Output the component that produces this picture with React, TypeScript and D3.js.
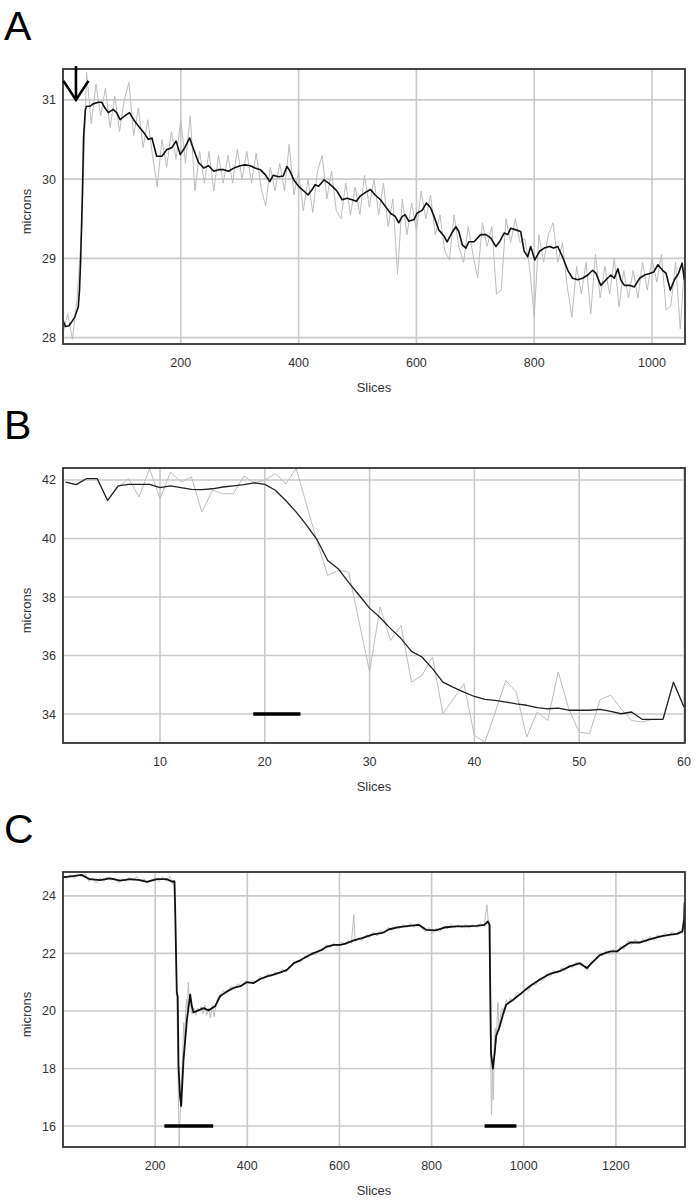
import React from 'react';
import * as d3 from 'd3';

// ---------------- Panel A data ----------------
const A_X_TICKS = [200, 400, 600, 800, 1000];
const A_Y_TICKS = [28, 29, 30, 31];
const A_BLACK: [number, number][] = [
  [0, 28.22], [4, 28.14], [10, 28.15], [15, 28.2], [20, 28.26], [26, 28.39], [28, 28.6], [30, 28.98], [33, 29.83], [35, 30.54],
  [38, 30.88], [40, 30.92], [46, 30.92], [51, 30.95], [60, 30.97], [66, 30.97], [71, 30.9], [77, 30.84], [85, 30.88], [91, 30.84],
  [97, 30.75], [105, 30.8], [113, 30.84], [120, 30.75], [128, 30.67], [137, 30.59], [145, 30.5], [151, 30.52], [159, 30.29], [168, 30.29],
  [176, 30.37], [185, 30.4], [192, 30.48], [199, 30.31], [207, 30.4], [215, 30.52], [222, 30.37], [230, 30.21], [239, 30.14], [247, 30.17],
  [256, 30.1], [264, 30.12], [273, 30.12], [281, 30.1], [290, 30.14], [301, 30.17], [309, 30.18], [318, 30.17], [326, 30.14], [335, 30.12],
  [343, 30.06], [351, 29.97], [357, 30.05], [366, 30.03], [374, 30.04], [380, 30.16], [384, 30.12], [392, 29.99], [400, 29.91], [409, 29.85],
  [416, 29.8], [423, 29.87], [428, 29.93], [434, 29.91], [443, 29.99], [451, 29.95], [460, 29.89], [465, 29.85], [474, 29.74], [482, 29.76],
  [491, 29.74], [498, 29.72], [505, 29.79], [513, 29.83], [522, 29.87], [530, 29.8], [539, 29.74], [547, 29.66], [556, 29.57], [564, 29.53],
  [570, 29.45], [576, 29.53], [581, 29.55], [587, 29.47], [596, 29.49], [601, 29.57], [610, 29.61], [617, 29.7], [624, 29.64], [630, 29.53],
  [638, 29.36], [647, 29.28], [652, 29.21], [660, 29.32], [667, 29.4], [672, 29.34], [678, 29.17], [684, 29.13], [689, 29.21], [698, 29.21],
  [709, 29.3], [718, 29.3], [726, 29.26], [735, 29.15], [741, 29.21], [749, 29.32], [755, 29.3], [760, 29.38], [769, 29.36], [777, 29.34],
  [783, 29.09], [789, 29.02], [794, 29.15], [801, 28.98], [809, 29.09], [817, 29.13], [826, 29.15], [833, 29.13], [840, 29.15], [848, 29.02],
  [857, 28.85], [865, 28.75], [874, 28.73], [882, 28.75], [891, 28.79], [899, 28.85], [905, 28.81], [913, 28.66], [922, 28.73], [930, 28.79],
  [936, 28.75], [942, 28.87], [947, 28.73], [953, 28.66], [962, 28.66], [970, 28.64], [979, 28.75], [987, 28.79], [996, 28.81], [1003, 28.83],
  [1010, 28.92], [1018, 28.85], [1024, 28.81], [1031, 28.6], [1038, 28.73], [1045, 28.81], [1051, 28.94], [1055, 28.73],
];
const A_GRAY_STEP = 8;
const A_GRAY_VALUES = [
  28.05, 28.3, 27.98, 28.5, 29.4, 31.35, 30.7, 31.2, 30.8, 31.15, 30.65, 31.05, 30.6, 31.0, 31.22, 30.55, 30.9, 30.4, 30.75, 30.3,
  29.9, 30.5, 30.15, 30.6, 30.25, 30.75, 30.2, 30.8, 29.85, 30.35, 29.95, 30.35, 29.85, 30.3, 29.95, 30.3, 29.95, 30.38, 30.0, 30.35,
  29.95, 30.33, 29.9, 29.66, 30.15, 29.85, 30.2, 29.85, 30.44, 29.8, 30.1, 29.6, 30.0, 29.58, 30.1, 30.3, 29.75, 30.1, 29.6, 29.5,
  29.95, 29.55, 29.9, 29.55, 30.05, 29.65, 30.0, 29.55, 29.95, 29.4, 29.75, 28.8, 29.75, 29.3, 29.7, 29.35, 29.85, 29.5, 29.8, 29.3,
  29.55, 29.1, 28.98, 29.55, 29.15, 28.95, 29.4, 29.05, 28.75, 29.45, 29.15, 29.4, 28.55, 28.6, 29.5, 29.2, 29.5, 29.2, 29.25, 28.9,
  28.26, 29.3, 28.95, 29.3, 29.45, 28.95, 29.2, 28.65, 28.26, 28.9, 28.55, 28.95, 28.3, 29.05, 28.5, 28.9, 28.55, 29.0, 28.39, 28.85,
  28.5, 28.85, 28.5, 28.95, 28.6, 29.0, 28.7, 29.05, 28.35, 28.4, 28.95, 28.11, 29.0,
];

// ---------------- Panel B data ----------------
const B_X_TICKS = [10, 20, 30, 40, 50, 60];
const B_Y_TICKS = [34, 36, 38, 40, 42];
const B_SLICES = d3.range(1, 61);
const B_GRAY = [
  41.93, 41.84, 42.05, 42.05, 41.3, 41.76, 42.05, 41.42, 42.39, 41.36,
  42.27, 41.93, 42.1, 40.9, 41.65, 41.53, 41.53, 42.14, 41.9, 41.99,
  42.22, 41.87, 42.39, 41.13, 39.88, 38.74, 38.91, 38.85, 37.15, 35.44,
  37.66, 36.52, 37.03, 35.09, 35.32, 35.95, 34.01, 34.52, 35.04, 33.27,
  33.04, 34.07, 35.15, 34.75, 33.21, 34.07, 33.78, 35.44, 34.18, 33.38,
  33.33, 34.5, 34.64, 34.18, 33.78, 33.73, 33.82, 33.82, 35.09, 34.24,
];
const B_BLACK = [
  41.93, 41.84, 42.05, 42.05, 41.3, 41.8, 41.85, 41.85, 41.85, 41.74,
  41.8, 41.74, 41.68, 41.67, 41.7, 41.76, 41.8, 41.84, 41.9, 41.85,
  41.65, 41.3, 40.9, 40.45, 39.95, 39.25, 38.97, 38.5, 38.06, 37.62,
  37.3, 36.92, 36.58, 36.14, 35.95, 35.55, 35.09, 34.91, 34.75, 34.6,
  34.5, 34.47, 34.41, 34.35, 34.3, 34.22, 34.18, 34.2, 34.13, 34.13,
  34.13, 34.16, 34.09, 34.01, 34.07, 33.82, 33.82, 33.82, 35.09, 34.24,
];
const B_BARS: [number, number, number][] = [[18.9, 23.4, 34]];

// ---------------- Panel C data ----------------
const C_X_TICKS = [200, 400, 600, 800, 1000, 1200];
const C_Y_TICKS = [16, 18, 20, 22, 24];
const C_BLACK: [number, number][] = [
  [0, 24.68], [3, 24.65], [22, 24.69], [40, 24.73], [58, 24.58], [80, 24.55], [102, 24.61], [124, 24.53], [146, 24.58], [167, 24.55],
  [182, 24.49], [204, 24.58], [225, 24.58], [236, 24.5], [242, 24.5], [243.5, 23.5], [247, 20.62], [249, 20.5], [250.7, 18.08], [254, 17.04],
  [256.5, 16.69], [258, 17.2], [261.6, 18.31], [269, 19.7], [276, 20.57], [279.7, 20.16], [283, 19.95], [294, 20.02], [305, 20.1], [316, 20.02],
  [330, 20.16], [341, 20.51], [356, 20.68], [370, 20.8], [385, 20.86], [399, 21.0], [414, 20.97], [428, 21.11], [443, 21.2], [457, 21.26],
  [472, 21.34], [486, 21.43], [501, 21.66], [515, 21.76], [530, 21.9], [544, 22.01], [559, 22.1], [573, 22.24], [588, 22.3], [602, 22.3],
  [613, 22.34], [631, 22.45], [649, 22.53], [671, 22.65], [693, 22.71], [708, 22.84], [729, 22.91], [751, 22.96], [773, 22.99], [788, 22.82],
  [809, 22.8], [831, 22.91], [853, 22.94], [875, 22.94], [897, 22.96], [915, 22.99], [922, 23.11], [926, 22.99], [927, 21.14], [929, 18.54],
  [933, 17.99], [937, 18.54], [940, 19.12], [948, 19.47], [955, 19.88], [962, 20.22], [977, 20.39], [995, 20.62], [1013, 20.86], [1035, 21.09],
  [1057, 21.29], [1078, 21.38], [1100, 21.55], [1122, 21.66], [1137, 21.49], [1151, 21.72], [1166, 21.95], [1188, 22.07], [1202, 22.07], [1217, 22.24],
  [1231, 22.38], [1253, 22.38], [1275, 22.5], [1297, 22.59], [1319, 22.65], [1333, 22.68], [1344, 22.76], [1348, 23.17], [1349, 23.75], [1350, 22.7],
];
const C_GRAY: [number, number][] = [
  [0, 24.7], [8, 24.6], [16, 24.75], [24, 24.6], [32, 24.72], [40, 24.68], [48, 24.78], [56, 24.5], [64, 24.62], [72, 24.45],
  [80, 24.62], [88, 24.5], [96, 24.66], [104, 24.55], [112, 24.62], [120, 24.45], [128, 24.6], [136, 24.5], [144, 24.65], [152, 24.52],
  [160, 24.68], [168, 24.5], [176, 24.6], [184, 24.45], [192, 24.55], [200, 24.62], [208, 24.5], [216, 24.66], [224, 24.5], [232, 24.68],
  [238, 24.4], [242, 24.55], [244, 23.4], [246, 21.5], [248, 19.5], [250, 17.6], [252, 15.3], [254, 16.2], [256, 17.0], [258, 17.8],
  [260, 18.6], [262, 19.6], [264, 18.8], [266, 19.9], [268, 20.4], [270, 20.0], [272, 21.0], [274, 20.5], [276, 20.6], [278, 20.1],
  [280, 19.9], [284, 20.1], [288, 19.85], [292, 20.1], [296, 20.0], [300, 20.15], [304, 19.9], [308, 20.2], [312, 19.85], [316, 20.1],
  [320, 19.75], [324, 20.2], [328, 19.8], [332, 20.25], [336, 20.45], [340, 20.55], [348, 20.7], [356, 20.6], [364, 20.85], [372, 20.75],
  [380, 20.95], [388, 20.85], [396, 21.05], [404, 20.95], [412, 21.05], [420, 21.0], [428, 21.2], [436, 21.1], [444, 21.3], [452, 21.2],
  [460, 21.35], [468, 21.3], [476, 21.45], [484, 21.35], [492, 21.55], [500, 21.6], [508, 21.75], [516, 21.7], [524, 21.9], [532, 21.85],
  [540, 22.05], [548, 21.95], [556, 22.15], [564, 22.1], [572, 22.3], [580, 22.2], [588, 22.35], [596, 22.25], [604, 22.4], [612, 22.3],
  [620, 22.45], [626, 22.35], [631, 23.35], [634, 22.4], [642, 22.55], [650, 22.45], [658, 22.65], [666, 22.55], [674, 22.75], [682, 22.6],
  [690, 22.8], [698, 22.7], [706, 22.9], [714, 22.8], [722, 22.95], [730, 22.85], [738, 23.0], [746, 22.9], [754, 23.05], [762, 22.9],
  [770, 23.05], [778, 22.9], [786, 22.75], [794, 22.9], [802, 22.7], [810, 22.88], [818, 22.75], [826, 22.95], [834, 22.85], [842, 23.0],
  [850, 22.88], [858, 23.0], [866, 22.9], [874, 23.0], [882, 22.88], [890, 23.0], [898, 22.9], [906, 23.05], [914, 22.95], [920, 23.69],
  [924, 22.9], [926, 21.5], [928, 18.5], [930, 16.4], [932, 18.0], [934, 16.9], [936, 18.8], [938, 19.4], [940, 18.9], [942, 19.6],
  [944, 20.3], [946, 19.3], [950, 19.9], [954, 20.1], [958, 19.95], [962, 20.4], [966, 20.2], [970, 20.45], [978, 20.35], [986, 20.65],
  [994, 20.55], [1002, 20.8], [1010, 20.7], [1018, 20.95], [1026, 20.9], [1034, 21.15], [1042, 21.05], [1050, 21.3], [1058, 21.2], [1066, 21.4],
  [1074, 21.3], [1082, 21.5], [1090, 21.4], [1098, 21.6], [1106, 21.5], [1114, 21.7], [1122, 21.6], [1130, 21.55], [1138, 21.4], [1146, 21.7],
  [1154, 21.75], [1162, 22.0], [1170, 21.9], [1178, 22.1], [1186, 21.95], [1194, 22.15], [1202, 22.0], [1210, 22.25], [1218, 22.15], [1226, 22.45],
  [1234, 22.3], [1242, 22.5], [1250, 22.35], [1258, 22.5], [1266, 22.4], [1274, 22.6], [1282, 22.45], [1290, 22.65], [1298, 22.55], [1306, 22.7],
  [1314, 22.6], [1322, 22.75], [1330, 22.65], [1338, 22.8], [1344, 22.7], [1348, 22.9], [1350, 22.7],
];
const C_BARS: [number, number, number][] = [[220, 326, 16], [915, 984, 16]];

// ---------------- drawing ----------------
const LEFT = 63;
const RIGHT = 685;
const TICK_FONT = '"Liberation Sans", Arial, sans-serif';

type PanelProps = {
  id: string;
  label: string;
  top: number;
  bottom: number;
  xDomain: [number, number];
  yDomain: [number, number];
  xTicks: number[];
  yTicks: number[];
  gray: [number, number][];
  black: [number, number][];
  blackWidth: number;
  blackColor: string;
  bars?: [number, number, number][];
  arrowAt?: [number, number];
};

function Panel(p: PanelProps) {
  const x = d3.scaleLinear().domain(p.xDomain).range([LEFT, RIGHT]);
  const y = d3.scaleLinear().domain(p.yDomain).range([p.bottom, p.top]);
  const line = d3.line<[number, number]>().x((d) => x(d[0])).y((d) => y(d[1]));
  const cx = (LEFT + RIGHT) / 2;
  const cy = (p.top + p.bottom) / 2;
  return (
    <g>
      <text x={4} y={p.top - 29} fontFamily='"Liberation Sans", Arial, sans-serif' fontSize={41} fill="#000">
        {p.label}
      </text>
      <defs>
        <clipPath id={`clip-${p.id}`}>
          <rect x={LEFT} y={p.top} width={RIGHT - LEFT} height={p.bottom - p.top} />
        </clipPath>
      </defs>
      <rect x={LEFT} y={p.top} width={RIGHT - LEFT} height={p.bottom - p.top} fill="#fff" />
      {p.xTicks.map((t) => (
        <line key={`gx${t}`} x1={x(t)} x2={x(t)} y1={p.top} y2={p.bottom} stroke="#cacaca" strokeWidth={1.6} />
      ))}
      {p.yTicks.map((t) => (
        <line key={`gy${t}`} x1={LEFT} x2={RIGHT} y1={y(t)} y2={y(t)} stroke="#cacaca" strokeWidth={1.6} />
      ))}
      <g clipPath={`url(#clip-${p.id})`}>
        <path d={line(p.gray) || ''} fill="none" stroke="#bdbdbd" strokeWidth={1} />
        <path d={line(p.black) || ''} fill="none" stroke={p.blackColor} strokeWidth={p.blackWidth} strokeLinejoin="round" />
      </g>
      {(p.bars || []).map((b, i) => (
        <line key={`bar${i}`} x1={x(b[0])} x2={x(b[1])} y1={y(b[2])} y2={y(b[2])} stroke="#000" strokeWidth={3.5} />
      ))}
      <rect x={LEFT} y={p.top} width={RIGHT - LEFT} height={p.bottom - p.top} fill="none" stroke="#333" strokeWidth={1.8} />
      {p.yTicks.map((t) => (
        <text key={`ty${t}`} x={LEFT - 7} y={y(t) + 4.5} textAnchor="end" fontFamily={TICK_FONT} fontSize={12.5} fill="#333">
          {t}
        </text>
      ))}
      {p.xTicks.map((t) => (
        <text key={`tx${t}`} x={x(t)} y={p.bottom + 23} textAnchor="middle" fontFamily={TICK_FONT} fontSize={12.5} fill="#333">
          {t}
        </text>
      ))}
      <text x={cx} y={p.bottom + 48} textAnchor="middle" fontFamily={TICK_FONT} fontSize={13} fill="#333">
        Slices
      </text>
      <text
        transform={`translate(${31},${cy + 5}) rotate(-90)`}
        textAnchor="middle"
        fontFamily={TICK_FONT}
        fontSize={13}
        fill="#333"
      >
        microns
      </text>
      {p.arrowAt && (
        <g stroke="#000" strokeWidth={2.6} fill="none" strokeLinecap="butt">
          <line x1={x(p.arrowAt[0])} x2={x(p.arrowAt[0])} y1={p.top - 3} y2={y(p.arrowAt[1])} />
          <polyline
            points={`${x(p.arrowAt[0]) - 12.5},${y(p.arrowAt[1]) - 19} ${x(p.arrowAt[0])},${y(p.arrowAt[1])} ${x(p.arrowAt[0]) + 12.5},${y(p.arrowAt[1]) - 19}`}
          />
        </g>
      )}
    </g>
  );
}

export default function App() {
  const aGray: [number, number][] = A_GRAY_VALUES.map((v, i) => [i * A_GRAY_STEP, v]);
  const bGray: [number, number][] = B_SLICES.map((s, i) => [s, B_GRAY[i]]);
  const bBlack: [number, number][] = B_SLICES.map((s, i) => [s, B_BLACK[i]]);
  return (
    <div style={{ position: 'absolute', left: 0, top: 0 }}>
      <svg width={698} height={1200} style={{ display: 'block', background: '#fff' }}>
        <rect width={698} height={1200} fill="#fff" />
        <Panel
          id="A"
          label="A"
          top={69}
          bottom={344}
          xDomain={[0, 1056]}
          yDomain={[27.92, 31.39]}
          xTicks={A_X_TICKS}
          yTicks={A_Y_TICKS}
          gray={aGray}
          black={A_BLACK}
          blackWidth={1.6}
          blackColor="#111"
          arrowAt={[22, 31]}
        />
        <Panel
          id="B"
          label="B"
          top={468}
          bottom={743}
          xDomain={[0.74, 60.1]}
          yDomain={[33.01, 42.41]}
          xTicks={B_X_TICKS}
          yTicks={B_Y_TICKS}
          gray={bGray}
          black={bBlack}
          blackWidth={1.3}
          blackColor="#222"
          bars={B_BARS}
        />
        <Panel
          id="C"
          label="C"
          top={872}
          bottom={1147}
          xDomain={[0, 1350]}
          yDomain={[15.27, 24.83]}
          xTicks={C_X_TICKS}
          yTicks={C_Y_TICKS}
          gray={C_GRAY}
          black={C_BLACK}
          blackWidth={1.8}
          blackColor="#111"
          bars={C_BARS}
        />
      </svg>
    </div>
  );
}
